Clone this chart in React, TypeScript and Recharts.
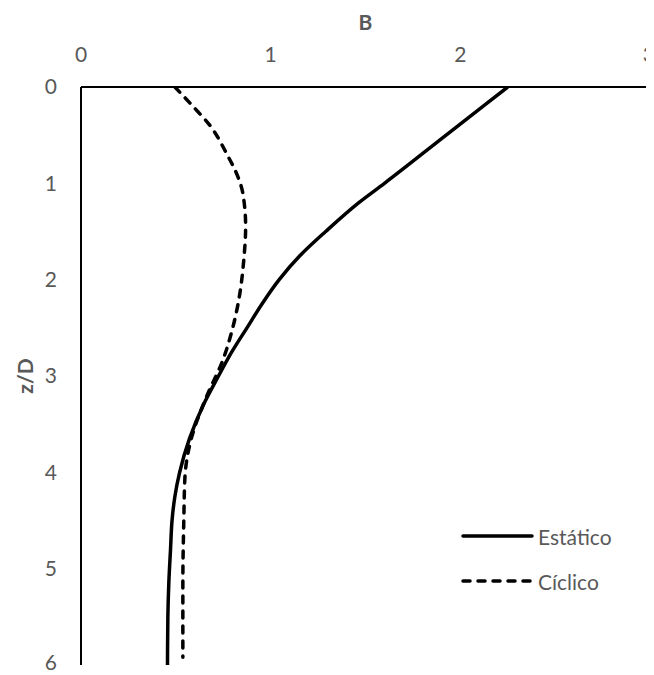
import React from 'react';
import { LineChart, Line, XAxis, YAxis, Label } from 'recharts';

const xTicks = [0, 1, 2, 3];
const yTicks = [0, 1, 2, 3, 4, 5, 6];

const estaticoZ = [0, 0.5, 1.0, 1.2, 1.5, 1.75, 2.0, 2.25, 2.5, 2.75, 3.0, 3.3, 3.65, 4.0, 4.25, 4.5, 4.8, 5.15, 5.5, 6.0];
const estaticoB = [2.25, 1.925, 1.6, 1.465, 1.29, 1.155, 1.045, 0.955, 0.875, 0.795, 0.725, 0.645, 0.572, 0.52, 0.495, 0.48, 0.472, 0.463, 0.458, 0.456];

const ciclicoZ = [0, 0.2, 0.4, 0.7, 0.93, 1.1, 1.45, 1.8, 2.15, 2.5, 2.85, 3.2, 3.7, 4.05, 4.5, 5.15, 5.92];
const ciclicoB = [0.495, 0.59, 0.68, 0.77, 0.827, 0.853, 0.868, 0.858, 0.837, 0.8, 0.745, 0.665, 0.575, 0.548, 0.542, 0.537, 0.537];

const seriesNames = ['Estático', 'Cíclico'];

const estaticoData = estaticoZ.map((z, i) => ({ z, B: estaticoB[i] }));
const ciclicoData = ciclicoZ.map((z, i) => ({ z, B: ciclicoB[i] }));

const FONT = 'Lato, "Open Sans", sans-serif';
const GRAY = '#595959';

const tickStyle = { fontSize: 21, fill: GRAY, fontFamily: FONT };

const LegendOverlay = () => (
  <svg width={200} height={85} style={{ position: 'absolute', left: 450, top: 510, overflow: 'visible' }}>
    <line x1={5} y1={18} x2={74} y2={18} stroke="#000" strokeWidth={3.5} strokeLinecap="round" />
    <text x={80} y={18} dominantBaseline="central" fontSize={21} fill={GRAY} fontFamily={FONT}>{seriesNames[0]}</text>
    <line x1={5} y1={63} x2={74} y2={63} stroke="#000" strokeWidth={3.5} strokeLinecap="round" strokeDasharray="7 8" />
    <text x={80} y={63} dominantBaseline="central" fontSize={21} fill={GRAY} fontFamily={FONT}>{seriesNames[1]}</text>
  </svg>
);

export default function App() {
  return (
    <div style={{ position: 'relative', width: 646, height: 667 }}>
      <LineChart
        width={646}
        height={667}
        layout="vertical"
        margin={{ top: 0, right: 4, bottom: 10, left: 0 }}
        style={{ fontFamily: FONT }}
      >
        <XAxis
          type="number"
          orientation="top"
          dataKey="B"
          domain={[0, 3]}
          ticks={xTicks}
          allowDataOverflow
          height={79}
          tickLine={false}
          tickMargin={19}
          axisLine={{ stroke: '#000', strokeWidth: 2 }}
          tick={tickStyle}
        >
          <Label
            content={(props: any) => {
              const vb = props.viewBox;
              return (
                <text x={vb.x + vb.width / 2} y={13} textAnchor="middle" dominantBaseline="central" fontSize={21} fontWeight="bold" fill={GRAY} fontFamily={FONT}>B</text>
              );
            }}
          />
        </XAxis>
        <YAxis
          type="number"
          dataKey="z"
          domain={[0, 6]}
          ticks={yTicks}
          allowDataOverflow
          width={73}
          tickLine={false}
          tickMargin={18}
          axisLine={{ stroke: '#000', strokeWidth: 2 }}
          tick={tickStyle}
        >
          <Label
            content={(props: any) => {
              const vb = props.viewBox;
              const cy = vb.y + vb.height / 2;
              return (
                <text x={16} y={cy} transform={`rotate(-90, 16, ${cy})`} textAnchor="middle" dominantBaseline="central" fontSize={21} fontWeight="bold" fill={GRAY} fontFamily={FONT}>z/D</text>
              );
            }}
          />
        </YAxis>
        <Line
          data={estaticoData}
          dataKey="B"
          name={seriesNames[0]}
          type="monotone"
          stroke="#000"
          strokeWidth={3.5}
          dot={false}
          activeDot={false}
          isAnimationActive={false}
        />
        <Line
          data={ciclicoData}
          dataKey="B"
          name={seriesNames[1]}
          type="monotone"
          stroke="#000"
          strokeWidth={3.5}
          strokeDasharray="7 8"
          strokeLinecap="round"
          dot={false}
          activeDot={false}
          isAnimationActive={false}
        />
      </LineChart>
      <LegendOverlay />
    </div>
  );
}
